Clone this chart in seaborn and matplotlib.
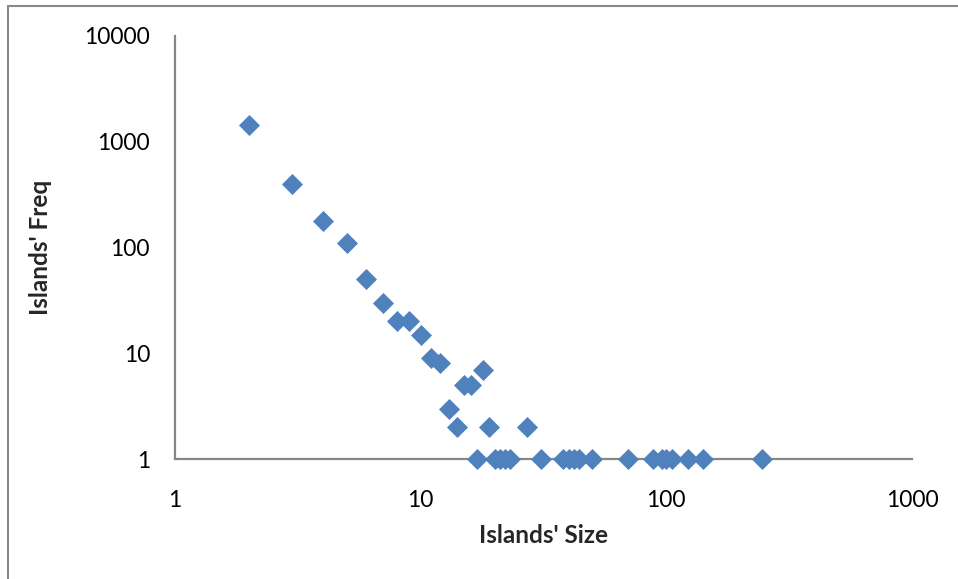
import numpy as np
import pandas as pd
import matplotlib.pyplot as plt
from matplotlib.lines import Line2D
import seaborn as sns

# island sizes and how often each size occurs
island_size = [2, 3, 4, 5, 6, 7, 8, 9, 10, 11, 12, 13, 14, 15, 16, 18, 19, 27,
               17, 20, 21, 22, 23, 31, 38, 40, 42, 44, 50, 70, 88, 96, 100,
               105, 122, 141, 246]
island_freq = [1450, 400, 180, 110, 50, 30, 20, 20, 15, 9, 8, 3, 2, 5, 5, 7, 2, 2,
               1, 1, 1, 1, 1, 1, 1, 1, 1, 1, 1, 1, 1, 1, 1,
               1, 1, 1, 1]

x_ticks = [1, 10, 100, 1000]
y_ticks = [1, 10, 100, 1000, 10000]

df = pd.DataFrame({"size": island_size, "freq": island_freq})

sns.set_style("white")
plt.rcParams["font.family"] = ["Lato", "DejaVu Sans"]

fig = plt.figure(figsize=(9.58, 5.79), dpi=100)
ax = fig.add_axes([175 / 958, 1 - 459 / 579, (912 - 175) / 958, (459 - 36) / 579])

sns.scatterplot(data=df, x="size", y="freq", ax=ax, marker="D", s=115,
                color="#4F81BD", linewidth=0, zorder=3, clip_on=False)

ax.set_xscale("log")
ax.set_yscale("log")
ax.set_xlim(1, 1000)
ax.set_ylim(1, 10000)
ax.set_xticks(x_ticks)
ax.set_xticklabels([str(t) for t in x_ticks])
ax.set_yticks(y_ticks)
ax.set_yticklabels([str(t) for t in y_ticks])
ax.minorticks_off()

grey = "#868686"
for side in ["top", "right"]:
    ax.spines[side].set_visible(False)
for side in ["left", "bottom"]:
    ax.spines[side].set_color(grey)
    ax.spines[side].set_linewidth(1.6)

ax.tick_params(axis="both", which="major", direction="out", length=6, width=1.6,
               color=grey, labelsize=16.5, labelcolor="black")
ax.tick_params(axis="y", pad=12)
ax.tick_params(axis="x", pad=16)

ax.set_xlabel("Islands' Size", fontsize=17.5, fontweight="bold", labelpad=10)
ax.set_ylabel("Islands' Freq", fontsize=17.5, fontweight="bold", labelpad=23)

# chart area border (runs off the right and bottom edge)
fig.add_artist(Line2D([8 / 958, 8 / 958], [-0.1, 1 - 6 / 579], color="#888888",
                      linewidth=1.5, transform=fig.transFigure))
fig.add_artist(Line2D([8 / 958, 1.1], [1 - 6 / 579, 1 - 6 / 579], color="#888888",
                      linewidth=1.5, transform=fig.transFigure))

fig.savefig("out.png", dpi=100)
